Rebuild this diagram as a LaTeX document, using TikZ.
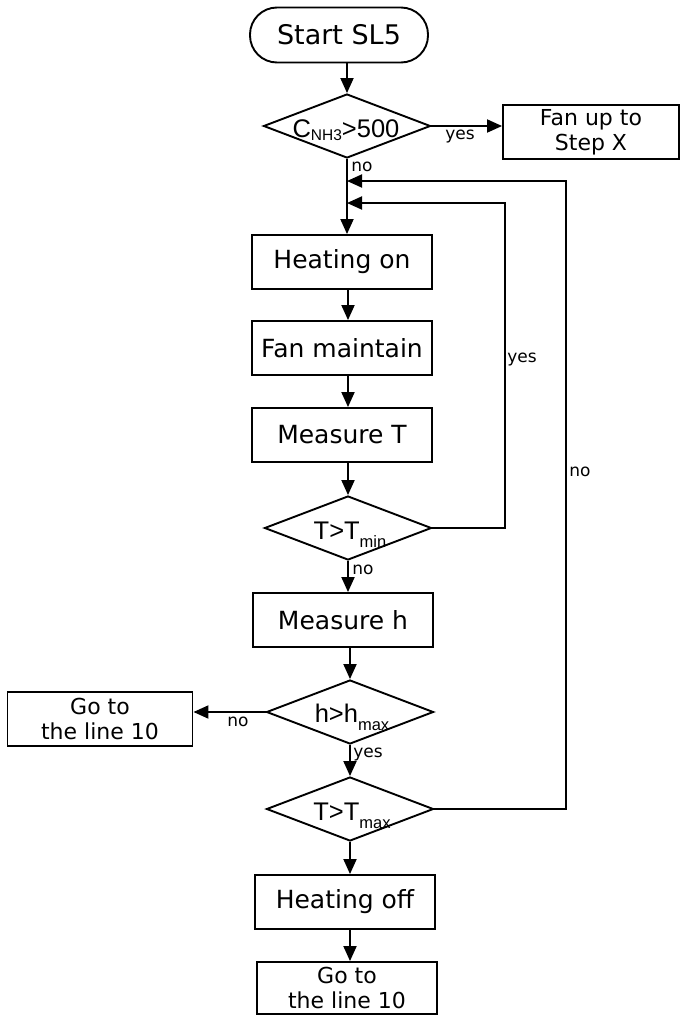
\documentclass[tikz,border=0pt]{standalone}
\usepackage{fontspec}
\setmainfont{DejaVu Sans}
\newfontfamily\arialf{Liberation Sans}
\usetikzlibrary{shapes.geometric,arrows.meta}
\newcommand{\dsub}[3]{\raisebox{-#1pt}{\fontsize{#2}{#2}\selectfont #3}}
\begin{document}
\begin{tikzpicture}[x=1pt,y=-1pt,
  box/.style={draw,line width=1.9pt,minimum width=180pt,minimum height=54pt,inner sep=0pt,font=\fontsize{25}{28}\selectfont},
  box2/.style={draw,line width=1.9pt,inner sep=0pt,align=center,font=\fontsize{22}{25}\selectfont},
  dia/.style={draw,diamond,line width=1.9pt,inner sep=0pt,minimum width=167pt,minimum height=64pt},
  dtext/.style={font=\arialf\fontsize{25.5}{28}\selectfont,inner sep=0pt,anchor=base},
  lab/.style={font=\fontsize{17}{19}\selectfont,inner sep=0pt},
  arr/.style={line width=1.9pt,-{Triangle[length=15pt,width=13pt]}}]
\useasboundingbox (0,0) rectangle (680,1015);
% nodes
\node[draw,line width=1.9pt,rounded corners=27pt,minimum width=178pt,minimum height=55pt,inner sep=0pt,font=\fontsize{27}{30}\selectfont] (start) at (339,35) {Start SL5};
\node[dia] (d1) at (347,126) {};
\node[dtext] (t1) at (346,137) {C\dsub{3}{15.5}{NH3}>500};
\node[box2,minimum width=176pt,minimum height=54pt] (fan) at (591,132) {Fan up to\\Step X};
\coordinate (j1) at (347,181);
\coordinate (j2) at (347,203);
\coordinate (o1) at (566,181);
\coordinate (o2) at (505,203);
\node[box] (hon) at (342,262) {Heating on};
\node[box] (fm) at (342,348) {Fan maintain};
\node[box] (mt) at (342,435) {Measure T};
\node[dia] (d2) at (348,528) {};
\node[dtext] (t2) at (350,539) {T>T\dsub{8}{16.5}{min}};
\node[box] (mh) at (343,620) {Measure h};
\node[dia] (d3) at (350,712) {};
\node[dtext] (t3) at (352,722) {h>h\dsub{8}{16.5}{max}};
\node[box2,minimum width=185pt,minimum height=54pt] (g1) at (100,719) {Go to\\the line 10};
\node[dia] (d4) at (350,809) {};
\node[dtext] (t4) at (352,820) {T>T\dsub{8}{16.5}{max}};
\node[box] (hoff) at (345,902) {Heating off};
\node[box2,minimum width=180pt,minimum height=52pt] (g2) at (347,988) {Go to\\the line 10};
% connectors
\draw[arr] (start.south -| d1.north) -- (d1.north);
\draw[arr] (d1.east) -- (fan.west |- d1.east);
\draw[arr] (d1.south) -- (d1.south |- hon.north);
\draw[arr] (d4.east) -| (o1) -- (j1);
\draw[arr] (d2.east) -| (o2) -- (j2);
\draw[arr] (hon.south -| d2.north) -- (fm.north -| d2.north);
\draw[arr] (fm.south -| d2.north) -- (mt.north -| d2.north);
\draw[arr] (mt.south -| d2.north) -- (d2.north);
\draw[arr] (d2.south) -- (d2.south |- mh.north);
\draw[arr] (mh.south -| d3.north) -- (d3.north);
\draw[arr] (d3.west) -- (d3.west -| g1.east);
\draw[arr] (d3.south) -- (d4.north);
\draw[arr] (d4.south) -- (d4.south |- hoff.north);
\draw[arr] (hoff.south -| d4.south) -- (d4.south |- g2.north);
% labels
\node[lab] (l1) at (460,137) {yes};
\node[lab] (l2) at (362,167) {no};
\node[lab] (l3) at (522,360) {yes};
\node[lab] (l4) at (580,472) {no};
\node[lab] (l5) at (363,570) {no};
\node[lab] (l6) at (238,722) {no};
\node[lab] (l7) at (368,754) {yes};
\end{tikzpicture}
\end{document}
